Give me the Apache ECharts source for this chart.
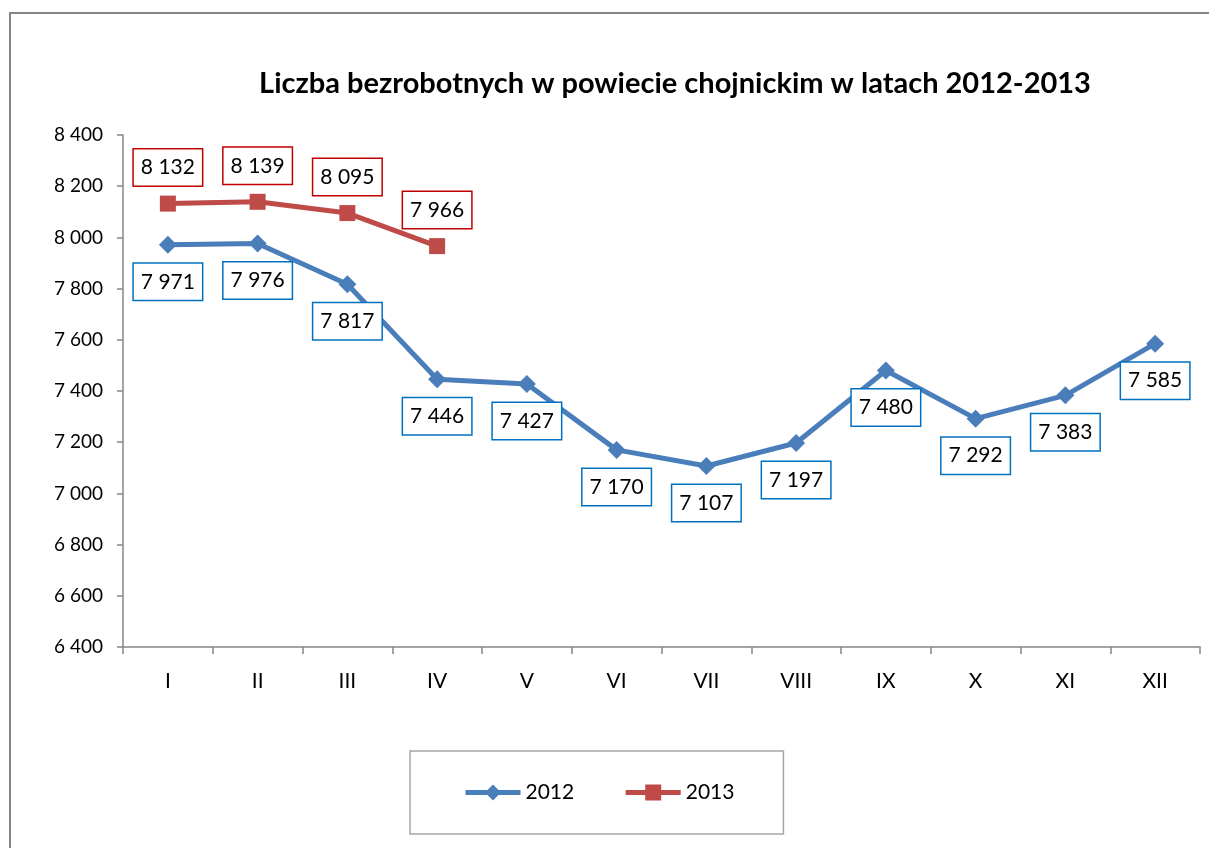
<!DOCTYPE html>
<html>
<head>
<meta charset="utf-8">
<script src="https://cdn.jsdelivr.net/npm/echarts@6/dist/echarts.min.js"></script>
<style>
  html, body { margin: 0; padding: 0; background: #fff; }
  #chart { width: 1209px; height: 848px; }
</style>
</head>
<body>
<div id="chart"></div>
<script>
// dane z wykresu
const months = ['I', 'II', 'III', 'IV', 'V', 'VI', 'VII', 'VIII', 'IX', 'X', 'XI', 'XII'];
const values2012 = [7971, 7976, 7817, 7446, 7427, 7170, 7107, 7197, 7480, 7292, 7383, 7585];
const values2013 = [8132, 8139, 8095, 7966];
const seriesNames = ['2012', '2013'];

const FONT = 'Lato';
const fmt = v => String(v).replace(/\B(?=(\d{3})+(?!\d))/g, ' ');

const chart = echarts.init(document.getElementById('chart'));

function labelBox(color) {
  return {
    show: true,
    formatter: p => fmt(p.value),
    fontFamily: FONT,
    fontSize: 21,
    lineHeight: 22,
    color: '#000',
    backgroundColor: '#fff',
    borderColor: color,
    borderWidth: 1.5,
    padding: [7, 7]
  };
}

chart.setOption({
  animation: false,
  title: {
    text: 'Liczba bezrobotnych w powiecie chojnickim w latach 2012-2013',
    left: 670,
    textAlign: 'center',
    top: 64,
    textStyle: { fontFamily: FONT, fontSize: 29, fontWeight: 'bold', color: '#000' }
  },
  graphic: [{
    type: 'rect',
    shape: { x: 10, y: 13, width: 1210, height: 850 },
    style: { fill: 'none', stroke: '#868686', lineWidth: 2 },
    silent: true
  }],
  legend: {
    data: seriesNames,
    left: 410,
    top: 751,
    padding: [31, 49, 31, 53],
    itemGap: 49,
    itemWidth: 55,
    itemHeight: 20,
    lineStyle: { width: 5 },
    borderColor: '#a6a6a6',
    borderWidth: 1.5,
    textStyle: { fontFamily: FONT, fontSize: 21, color: '#000' }
  },
  grid: { left: 123, top: 135, width: 1077, height: 512, containLabel: false },
  xAxis: {
    type: 'category',
    data: months,
    boundaryGap: true,
    axisLine: { lineStyle: { color: '#868686', width: 1.5 } },
    axisTick: { show: true, interval: 0, length: 7, lineStyle: { color: '#868686', width: 1.5 } },
    axisLabel: { fontFamily: FONT, fontSize: 21, color: '#000', margin: 24 }
  },
  yAxis: {
    type: 'value',
    min: 6400,
    max: 8400,
    interval: 200,
    splitLine: { show: false },
    axisLine: { show: true, lineStyle: { color: '#868686', width: 1.5 } },
    axisTick: { show: true, length: 6, lineStyle: { color: '#868686', width: 1.5 } },
    axisLabel: { fontFamily: FONT, fontSize: 19, color: '#000', margin: 20, formatter: v => fmt(v) }
  },
  series: [
    {
      name: seriesNames[0],
      type: 'line',
      data: values2012,
      symbol: 'diamond',
      symbolSize: 18,
      itemStyle: { color: '#4A7EBB' },
      lineStyle: { color: '#4A7EBB', width: 5 },
      label: Object.assign(labelBox('#0070C0'), { position: 'bottom', distance: 10 })
    },
    {
      name: seriesNames[1],
      type: 'line',
      data: values2013,
      symbol: 'rect',
      symbolSize: 16,
      itemStyle: { color: '#BE4B48' },
      lineStyle: { color: '#BE4B48', width: 5 },
      label: Object.assign(labelBox('#C00000'), { position: 'top', distance: 10 })
    }
  ]
});
</script>
</body>
</html>
